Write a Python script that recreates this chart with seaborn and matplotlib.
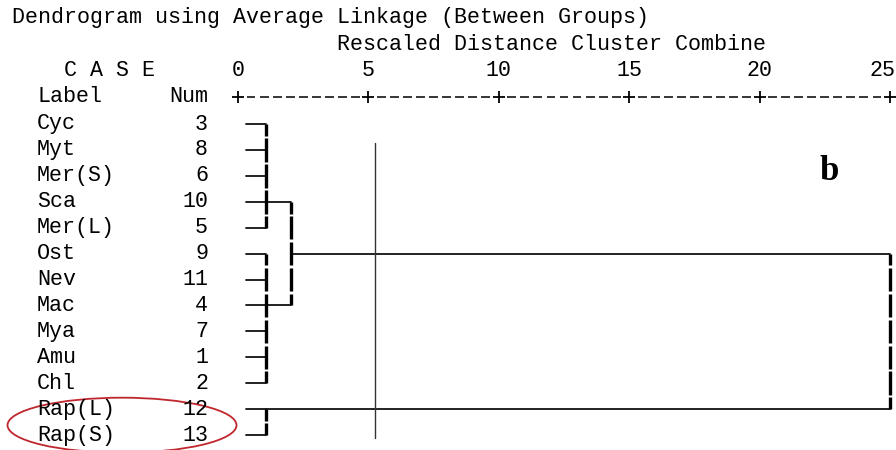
import matplotlib
matplotlib.use("Agg")
import matplotlib.pyplot as plt
from matplotlib.patches import Ellipse
import seaborn as sns
import pandas as pd
import numpy as np

# ---------------- data ----------------
labels = ["Cyc", "Myt", "Mer(S)", "Sca", "Mer(L)", "Ost", "Nev", "Mac",
          "Mya", "Amu", "Chl", "Rap(L)", "Rap(S)"]
nums = [3, 8, 6, 10, 5, 9, 11, 4, 7, 1, 2, 12, 13]
leaf_start = 0.3
# clusters (node ids 13..17); children refer to leaves 0..12 or clusters 13+
clu_height = [1.07, 1.07, 1.07, 2.03, 25.0]
clu_children = [[0, 1, 2, 3, 4], [5, 6, 7, 8, 9, 10], [11, 12], [13, 14], [15, 16]]
clu_anchor = [3, 7, 11, 5, 5]
ticks = [0, 5, 10, 15, 20, 25]
cut_x = 5.25
cut_rows = (0.73, 12.11)
title = "Dendrogram using Average Linkage (Between Groups)"
subtitle = "Rescaled Distance Cluster Combine"
panel = "b"
highlight = ["Rap(L)", "Rap(S)"]

# ---------------- style ----------------
sns.set_theme(style="white")
plt.rcParams["font.family"] = ["Liberation Mono", "DejaVu Sans"]

W, H = 896, 450
fig = plt.figure(figsize=(W / 100, H / 100), dpi=100)
ax = fig.add_axes([0, 0, 1, 1])
X0, SX = 238.0, 26.08
Y0, SY = 124.0, 25.92

def px_x(d):
    return X0 + d * SX

# ---------------- dendrogram geometry ----------------
n = len(labels)
node_x = {i: leaf_start for i in range(n)}
node_row = {i: i for i in range(n)}
parent = {}
for k, (h, ch, a) in enumerate(zip(clu_height, clu_children, clu_anchor)):
    nid = n + k
    node_x[nid] = h
    node_row[nid] = a
    for c in ch:
        parent[c] = nid

hrows = []
seg = 0
for node, p in parent.items():
    hrows.append(dict(x=node_x[node], y=node_row[node], seg=seg))
    hrows.append(dict(x=node_x[p], y=node_row[node], seg=seg))
    seg += 1
hdf = pd.DataFrame(hrows)

vrows = []
gap = 1.2 / SY
seg = 0
for k, (h, ch) in enumerate(zip(clu_height, clu_children)):
    rs = [node_row[c] for c in ch]
    r0, r1 = min(rs), max(rs)
    cuts = [r0] + [r + 0.5 for r in range(r0, r1)] + [r1]
    for j in range(len(cuts) - 1):
        a = cuts[j] + (gap if j > 0 else 0)
        b = cuts[j + 1] - (gap if j < len(cuts) - 2 else 0)
        vrows.append(dict(x=h, y=a, seg=seg))
        vrows.append(dict(x=h, y=b, seg=seg))
        seg += 1
vdf = pd.DataFrame(vrows)

sns.lineplot(data=hdf, x="x", y="y", units="seg", estimator=None, sort=False,
             color="#111111", lw=1.3, ax=ax, legend=False)
sns.lineplot(data=vdf, x="x", y="y", units="seg", estimator=None, sort=False,
             color="#000000", lw=2.4, ax=ax, legend=False, solid_capstyle="butt")
ax.axis("off")
ax.set_xlim((0 - X0) / SX, (W - X0) / SX)
ax.set_ylim((H - Y0) / SY, (0 - Y0) / SY)

# cut line
ax.plot([cut_x, cut_x], list(cut_rows), color="#333333", lw=1.0)

# ---------------- axis row (+-----+) ----------------
axis_row = (97 - Y0) / SY
for t0, t1 in zip(ticks[:-1], ticks[1:]):
    step = (t1 - t0) / 10
    for j in range(1, 10):
        c = t0 + j * step
        ax.plot([c - 0.17, c + 0.17], [axis_row, axis_row], color="black", lw=1.1,
                solid_capstyle="butt")
ax.plot(ticks, [axis_row] * len(ticks), ls="none", marker="+", ms=9, mew=1.3,
        color="black")

# ---------------- text ----------------
fs = 15.6
def ftext(xp, yp, s, **kw):
    fig.text(xp / W, 1 - yp / H, s, fontsize=kw.pop("fontsize", fs), va="center",
             color="black", **kw)

ftext(12, 18, title)
ftext(337, 44, subtitle)
ftext(64, 70, "C A S E")
ftext(37, 97, "Label")
ftext(208, 97, "Num", ha="right")
for t in ticks:
    xp = px_x(t)
    if xp + 14 > W:
        ftext(W - 1, 70, str(t), ha="right")
    else:
        ftext(xp, 70, str(t), ha="center")

for i, (lab, num) in enumerate(zip(labels, nums)):
    yp = Y0 + i * SY
    ftext(37, yp, lab)
    ftext(208, yp, str(num), ha="right")

fig.text(829 / W, 1 - 172 / H, panel, fontsize=25, fontweight="bold",
         family="Liberation Serif", ha="center", va="center", color="black")

# red ellipse round highlighted rows
hi = [labels.index(h) for h in highlight]
cy = (min(hi) + max(hi)) / 2 + 0.12
ell = Ellipse(((122 - X0) / SX, cy), width=229 / SX, height=55 / SY,
              fill=False, edgecolor="#c0262d", lw=1.3, clip_on=False)
ax.add_patch(ell)

fig.savefig("out.png", dpi=100)
